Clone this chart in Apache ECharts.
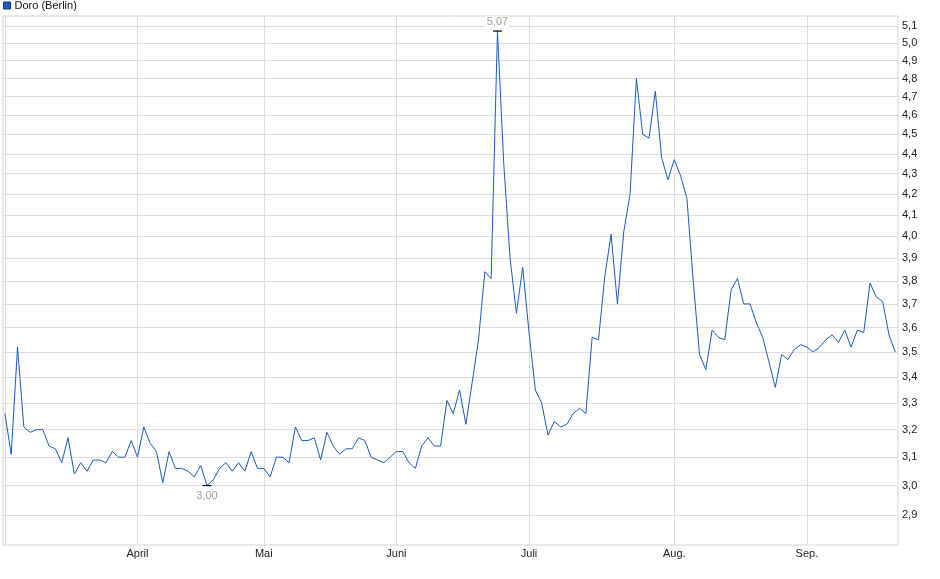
<!DOCTYPE html>
<html>
<head>
<meta charset="utf-8">
<script src="https://cdn.jsdelivr.net/npm/echarts@6/dist/echarts.min.js"></script>
<style>
html,body{margin:0;padding:0;background:#fff;}
#chart{width:940px;height:579px;}
</style>
</head>
<body>
<div id="chart"></div>
<script>
// ---- data ----
const seriesName = 'Doro (Berlin)';
const startDate = '2025-03-03';
const endDate = '2025-09-19';
const holidays = ['2025-04-18', '2025-04-21', '2025-05-01'];
const monthNames = ['Jan.', 'Feb.', 'März', 'April', 'Mai', 'Juni', 'Juli', 'Aug.', 'Sep.', 'Okt.', 'Nov.', 'Dez.'];
const prices = [
  3.26, 3.11, 3.52, 3.21, 3.19, 3.20, 3.20, 3.14, 3.13, 3.08,
  3.17, 3.04, 3.08, 3.05, 3.09, 3.09, 3.08, 3.12, 3.10, 3.10,
  3.16, 3.10, 3.21, 3.15, 3.12, 3.01, 3.12, 3.06, 3.06, 3.05,
  3.03, 3.07, 3.00, 3.02, 3.06, 3.08, 3.05, 3.08, 3.05, 3.12,
  3.06, 3.06, 3.03, 3.10, 3.10, 3.08, 3.21, 3.16, 3.16, 3.17,
  3.09, 3.19, 3.14, 3.11, 3.13, 3.13, 3.17, 3.16, 3.10, 3.09,
  3.08, 3.10, 3.12, 3.12, 3.08, 3.06, 3.14, 3.17, 3.14, 3.14,
  3.31, 3.26, 3.35, 3.22, 3.38, 3.55, 3.84, 3.81, 5.07, 4.35,
  3.90, 3.66, 3.86, 3.58, 3.35, 3.30, 3.18, 3.23, 3.21, 3.22,
  3.26, 3.28, 3.26, 3.56, 3.55, 3.82, 4.01, 3.70, 4.02, 4.20,
  4.80, 4.50, 4.48, 4.73, 4.38, 4.27, 4.37, 4.29, 4.18, 3.80,
  3.49, 3.43, 3.59, 3.56, 3.55, 3.76, 3.81, 3.70, 3.70, 3.62,
  3.56, 3.46, 3.36, 3.49, 3.47, 3.51, 3.53, 3.52, 3.50, 3.52,
  3.55, 3.57, 3.54, 3.59, 3.52, 3.59, 3.58, 3.79, 3.73, 3.71,
  3.57, 3.50
];
const yTicks = [2.9, 3.0, 3.1, 3.2, 3.3, 3.4, 3.5, 3.6, 3.7, 3.8, 3.9, 4.0,
  4.1, 4.2, 4.3, 4.4, 4.5, 4.6, 4.7, 4.8, 4.9, 5.0, 5.1];
const yMin = 2.801, yMax = 5.159;

// ---- trading days ----
function fmt(d) { return d.toISOString().slice(0, 10); }
const dates = [];
for (let d = new Date(startDate + 'T00:00:00Z'); fmt(d) <= endDate; d.setUTCDate(d.getUTCDate() + 1)) {
  const wd = d.getUTCDay();
  const s = fmt(d);
  if (wd !== 0 && wd !== 6 && holidays.indexOf(s) < 0) dates.push(s);
}
const monthStarts = [];
const monthLabelMap = {};
dates.forEach((s, i) => {
  if (i === 0 || s.slice(5, 7) !== dates[i - 1].slice(5, 7)) {
    monthStarts.push(i);
    monthLabelMap[i] = i === 0 ? '' : monthNames[parseInt(s.slice(5, 7), 10) - 1];
  }
});

const lineData = prices.map((v, i) => [i, Math.log(v)]);
const yTickLn = yTicks.map(v => Math.log(v));
const fmtComma = (v, d) => v.toFixed(d).replace('.', ',');

const chart = echarts.init(document.getElementById('chart'), null, { renderer: 'canvas' });
chart.setOption({
  animation: false,
  backgroundColor: '#fff',
  textStyle: { fontFamily: 'Liberation Sans, Arial, sans-serif' },
  legend: {
    left: 3, top: 0, padding: 0,
    itemWidth: 7, itemHeight: 7, itemGap: 10,
    icon: 'rect',
    textStyle: { fontSize: 11, color: '#111', fontFamily: 'Liberation Sans, Arial, sans-serif', padding: [0, 0, 0, -1] },
    itemStyle: { borderColor: '#123a7a', borderWidth: 1 },
    data: [seriesName]
  },
  grid: {
    left: 3, right: 42, top: 16, bottom: 34,
    show: true, borderColor: '#d4d4d4', borderWidth: 1,
    containLabel: false
  },
  xAxis: {
    type: 'value',
    min: -0.3, max: prices.length - 1 + 0.43,
    axisLine: { show: false },
    axisTick: { show: false, customValues: monthStarts },
    axisLabel: {
      customValues: monthStarts,
      margin: 3,
      fontSize: 11,
      color: '#222',
      fontFamily: 'Liberation Sans, Arial, sans-serif',
      formatter: v => monthLabelMap[Math.round(v)] || ''
    },
    splitLine: { show: true, lineStyle: { color: '#dcdcdc', width: 1 } }
  },
  yAxis: {
    type: 'value',
    position: 'right',
    min: Math.log(yMin), max: Math.log(yMax),
    axisLine: { show: false },
    axisTick: { show: false, customValues: yTickLn },
    axisLabel: {
      customValues: yTickLn,
      margin: 4,
      fontSize: 11,
      color: '#222',
      fontFamily: 'Liberation Sans, Arial, sans-serif',
      formatter: v => fmtComma(Math.exp(v), 1)
    },
    splitLine: { show: true, lineStyle: { color: '#dcdcdc', width: 1 } }
  },
  series: [{
    name: seriesName,
    type: 'line',
    data: lineData,
    showSymbol: false,
    symbol: 'none',
    color: '#1c5bbf',
    lineStyle: { width: 1, color: '#1c5bbf' },
    markPoint: {
      symbol: 'rect',
      symbolSize: [9, 1.2],
      itemStyle: { color: '#000' },
      data: [
        { type: 'max', label: { position: 'top', distance: 3 } },
        { type: 'min', label: { position: 'bottom', distance: 4 } }
      ],
      label: {
        show: true,
        color: '#a8a098',
        fontSize: 11,
        fontFamily: 'Liberation Sans, Arial, sans-serif',
        backgroundColor: '#fff',
        padding: [0, 1],
        formatter: p => fmtComma(Math.exp(p.value), 2)
      }
    }
  }]
});
</script>
</body>
</html>
